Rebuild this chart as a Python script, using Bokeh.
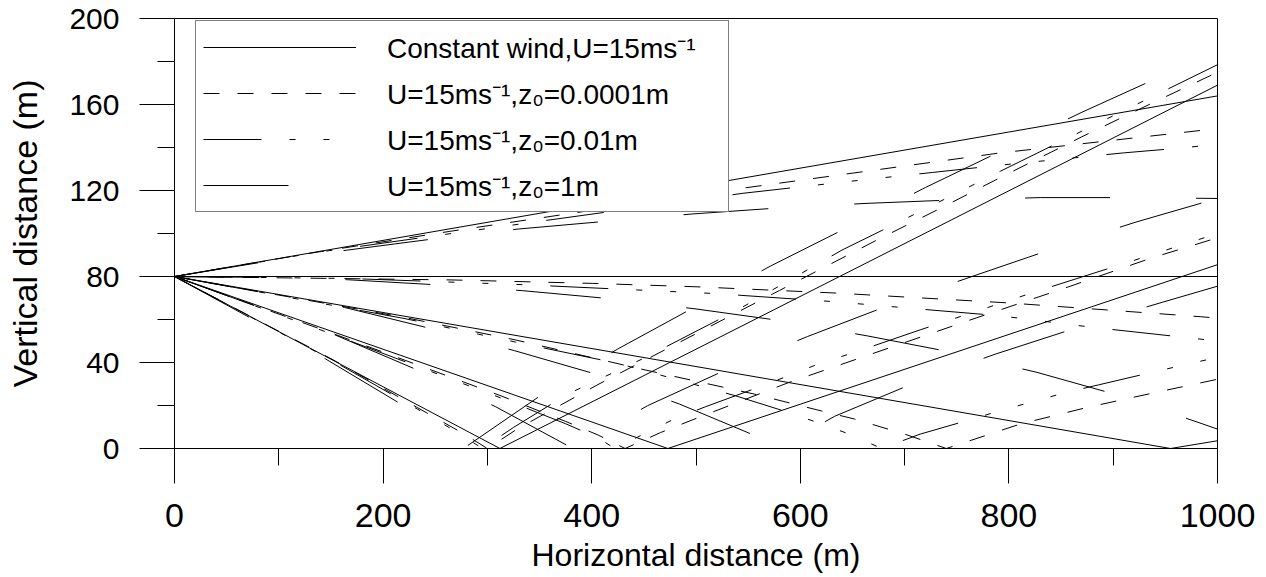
from bokeh.plotting import figure
from bokeh.models import Range1d, FixedTicker, Legend, LegendItem
from bokeh.embed import file_html
from bokeh.resources import INLINE

# Sound rays launched from a source 80 m above ground at +5, 0, -5, -10 and -15 degrees,
# each ray given as (x, y) vertices in metres, ground reflections included.

# constant wind, U = 15 m/s (straight rays)
const_x = [[0, 1000], [0, 1000], [0, 955, 1000], [0, 473, 1000], [0, 312, 1000]]
const_y = [[80, 164], [80, 80], [80, 0, 3.6], [80, 0, 85.5], [80, 0, 169]]

# logarithmic wind profile, z0 = 0.0001 m
z4_x = [
    [0, 135, 264, 527, 792, 1000],
    [0, 266, 401, 501, 634, 800, 984, 1000],
    [0, 220, 327, 447, 556, 620, 652, 700, 740, 811, 875, 941, 1000],
    [0, 150, 313, 375, 406, 432, 466, 497, 589, 668, 760, 856, 936, 1000],
    [0, 150, 233, 276, 300, 330, 407, 481, 580, 672, 733, 792, 870, 941, 1000],
]
z4_y = [
    [80, 91.2, 101, 119.9, 137.5, 148.8],
    [80, 78.4, 76.8, 75.2, 72.3, 67.7, 61.3, 60.6],
    [80, 61, 50.5, 37, 25.3, 17.5, 13.7, 6.7, 0, 11.4, 19.1, 26.1, 32.2],
    [80, 53.8, 24.5, 12.6, 6.3, 0, 7.4, 13.4, 30.7, 43.9, 59.3, 75, 88.5, 98],
    [80, 41.8, 19, 7.2, 0, 9.5, 30, 48.6, 73.5, 96.6, 111.4, 126.1, 145, 161.5, 175],
]

# logarithmic wind profile, z0 = 0.01 m
z2_x = [
    [0, 135, 270, 545, 602, 669, 727, 784, 910, 966, 1000],
    [0, 166, 334, 517, 632, 733, 790, 883, 972, 1000],
    [0, 220, 327, 426, 538, 584, 620, 648, 678, 715, 765, 791, 855, 886, 944, 1000],
    [0, 150, 313, 375, 406, 422, 479, 509, 564, 621, 652, 715, 826, 920, 1000],
    [0, 150, 233, 276, 295, 325, 377, 450, 540, 640, 692, 792, 880, 1000],
]
z2_y = [
    [80, 91.1, 100.3, 118.7, 121.8, 125.4, 128.4, 131.4, 137.5, 139.8, 141.5],
    [80, 79.1, 76.2, 72.1, 68.3, 64.1, 61.8, 56.2, 51.5, 50],
    [80, 60.5, 49.5, 39.5, 24.5, 17.5, 11.5, 6.5, 0, 6.7, 13.7, 17.5, 26.1, 29.6, 36.2, 42.4],
    [80, 53.4, 23.5, 11.5, 5, 0, 13.7, 19.4, 29.2, 40, 44.7, 55.2, 73, 87.5, 100],
    [80, 41.3, 18.3, 6.2, 0, 9.8, 25.3, 42, 64.5, 92.3, 104.7, 129, 150, 178.5],
]

# logarithmic wind profile, z0 = 1 m
z0_x = [
    [0, 83, 166, 247, 330, 412, 497, 580, 663, 746, 830, 913, 1000],
    [0, 83, 166, 249, 334, 415, 500, 582, 664, 746, 827, 907, 986, 1000],
    [0, 163, 244, 326, 406, 484, 561, 578, 633, 707, 787, 866, 947, 1000],
    [0, 156, 233, 308, 382, 453.5, 527, 607, 684, 764, 840, 921, 1000],
    [0, 145, 217, 277, 353, 425, 497, 572, 639, 720, 794, 870, 946, 1000],
]
z0_y = [
    [80, 86.6, 92.3, 97.4, 102.1, 105.6, 109.1, 111.9, 114, 115.6, 116.7, 116.7, 116.3],
    [80, 79.6, 78.5, 76.2, 73.4, 69.8, 64.9, 59.4, 52.4, 44.7, 35.4, 24.5, 11.4, 9],
    [80, 65.6, 56, 45.5, 34.3, 20.7, 5.1, 0, 15, 30, 43.9, 56.3, 68, 75.5],
    [80, 52.4, 36.5, 19.4, 0, 19.9, 36.2, 52.1, 66.4, 79.9, 92.5, 105.2, 116.3],
    [80, 41.6, 20.7, 0, 25.3, 46.3, 65.3, 85, 101.3, 121.4, 138.7, 156.4, 173.1, 185],
]

x_ticks = [0, 200, 400, 600, 800, 1000]
x_minor = [100, 300, 500, 700, 900]
y_ticks = [0, 40, 80, 120, 160, 200]
y_minor = [20, 60, 100, 140, 180]

labels = [
    "Constant wind,U=15ms\u207b\u00b9",
    "U=15ms\u207b\u00b9,z\u2080=0.0001m",
    "U=15ms\u207b\u00b9,z\u2080=0.01m",
    "U=15ms\u207b\u00b9,z\u2080=1m",
]
x_title = "Horizontal distance (m)"
y_title = "Vertical distance (m)"

FONT = "Liberation Sans"

p = figure(
    width=1266, height=577,
    x_range=Range1d(0, 1000), y_range=Range1d(0, 200),
    output_backend="svg", toolbar_location=None,
    min_border_left=174, min_border_right=49,
    min_border_top=18, min_border_bottom=129,
)
p.background_fill_color = "white"
p.border_fill_color = "white"
p.outline_line_color = "black"
p.outline_line_width = 1
p.xgrid.visible = False
p.ygrid.visible = False

lw = 1.0
r_const = p.multi_line(const_x, const_y, line_color="black", line_width=lw)
r_z4 = p.multi_line(z4_x, z4_y, line_color="black", line_width=lw, line_dash="16 18")
r_z2 = p.multi_line(z2_x, z2_y, line_color="black", line_width=lw,
                    line_dash="58 28 6 28 6 28 6 28")
r_z0 = p.multi_line(z0_x, z0_y, line_color="black", line_width=lw, line_dash="85 86")

for ax, ticks, minor in ((p.xaxis[0], x_ticks, x_minor), (p.yaxis[0], y_ticks, y_minor)):
    ax.ticker = FixedTicker(ticks=ticks, minor_ticks=minor)
    ax.axis_line_color = "black"
    ax.major_tick_line_color = "black"
    ax.minor_tick_line_color = "black"
    ax.major_tick_in = 0
    ax.minor_tick_in = 0
    ax.major_tick_out = 35
    ax.minor_tick_out = 17
    ax.major_label_text_font = FONT
    ax.major_label_text_color = "black"
    ax.axis_label_text_font = FONT
    ax.axis_label_text_font_style = "normal"
    ax.axis_label_text_color = "black"

p.xaxis.axis_label = x_title
p.yaxis.axis_label = y_title
p.xaxis.major_label_text_font_size = "34px"
p.yaxis.major_label_text_font_size = "30px"
p.xaxis.axis_label_text_font_size = "32px"
p.yaxis.axis_label_text_font_size = "34px"
p.xaxis.major_label_standoff = 20
p.yaxis.major_label_standoff = 20
p.xaxis.axis_label_standoff = 7
p.yaxis.axis_label_standoff = 22

legend = Legend(
    items=[
        LegendItem(label=labels[0], renderers=[r_const]),
        LegendItem(label=labels[1], renderers=[r_z4]),
        LegendItem(label=labels[2], renderers=[r_z2]),
        LegendItem(label=labels[3], renderers=[r_z0]),
    ],
    location=(21, 236),
    glyph_width=153, glyph_height=28, label_height=28, label_width=334,
    label_standoff=31, spacing=8, padding=7, margin=0,
    label_text_font=FONT, label_text_font_size="28px", label_text_color="black",
    border_line_color="black", border_line_width=1,
    background_fill_color="white", background_fill_alpha=1.0,
)
p.add_layout(legend)

open("out.html", "w").write(file_html(p, INLINE))
